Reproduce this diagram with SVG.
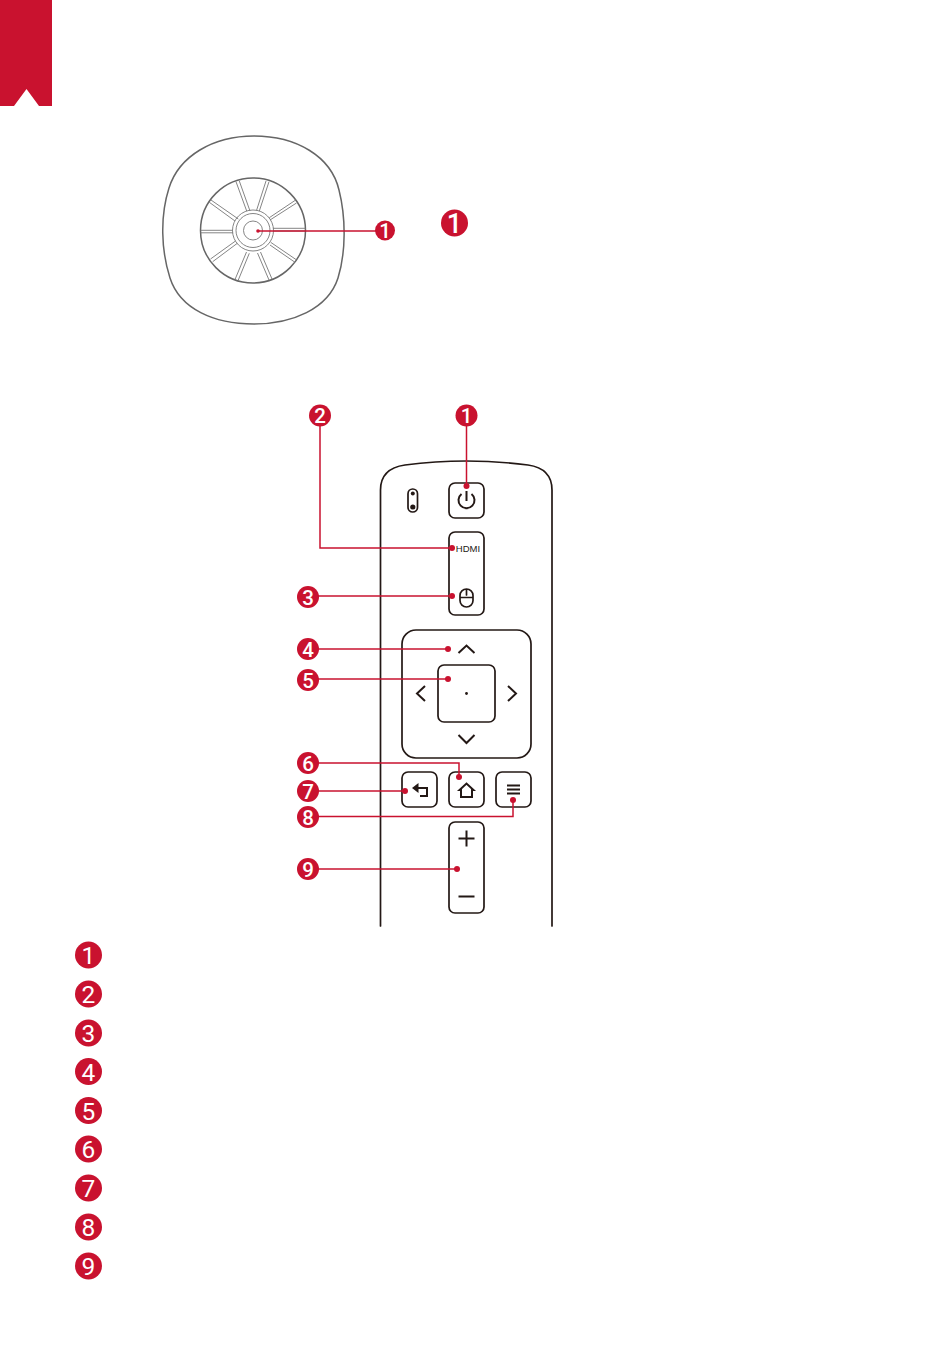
<svg xmlns="http://www.w3.org/2000/svg" width="950" height="1348" viewBox="0 0 950 1348">
<style>
.red{fill:#c9122f}
.ln{fill:none;stroke:#231815;stroke-width:1.7;stroke-linecap:round;stroke-linejoin:round}
.ic{fill:none;stroke:#231815;stroke-width:2;stroke-linejoin:miter}
.gr{fill:none;stroke:#666;stroke-width:1.5}
.th{fill:none;stroke:#777;stroke-width:.9}
.c{fill:none;stroke:#c9122f;stroke-width:1.5}
.d{fill:#c9122f}
.b{fill:#c9122f}
text{font-family:Roboto,"Liberation Sans",Arial,sans-serif;fill:#fff;text-anchor:middle}
.s{font-size:20.500px;font-weight:500}
.l{font-size:24.500px}
.k{font-size:27px;font-weight:500}
.h{font-size:9.500px;fill:#231815;font-family:"Liberation Sans",Arial,sans-serif}
</style>
<rect width="950" height="1348" fill="#fff"/>
<g id="ribbon"><path class="red" d="M0 0H52V106H39L26.500 89 14 106H0Z"/></g>

<g id="device-top">
<path class="gr" d="M254 136C296 136 331 156 339 190C346 218 346 252 338 278C328 309 292 324 254 324C214 324 180 309 170 278C161 250 160 216 169 188C179 156 213 136 254 136Z"/>
<circle class="gr" cx="253" cy="230.500" r="52.500"/>
<circle class="th" cx="253" cy="230.500" r="20.500"/>
<circle class="th" cx="253" cy="230.500" r="17"/>
<circle class="th" cx="253" cy="230.500" r="9.500"/>
<path class="th" d="M236 181.700L246.700 211M239.300 181L250 211M269 181.700L259.300 211M266 181L256.500 210.500M211 200L238.300 219M209.300 202.300L235 221M295.700 200L269.300 217.700M296.500 203L270 220M200.700 230.300H233M200.700 232.800H233M273 228.300H305.500M273 231H305.500M212.700 261.700L237.300 243.300M210.500 259L235.500 241M270.700 242.300L296.700 260M270 245L295 262.300M249.300 253.300L238.300 280M246.500 252L235 279.500M257.500 253L269 280M260.500 252L272 279"/>
</g>

<g id="remote">
<path class="ln" d="M380.500 926V490C380.500 474 391 467 405 465Q466 457 528 465C542 467 552 474 552 490V926"/>
<rect class="ln" x="408" y="489" width="9.500" height="23" rx="4.700"/>
<circle cx="412.800" cy="493.500" r="2" fill="#231815"/><circle cx="412.800" cy="507" r="2.600" fill="#231815"/>
</g>
<g id="btn-power"><rect class="ln" x="449" y="483" width="35" height="35" rx="6"/><path class="ic" d="M461.500 494a8 8 0 1 0 10 0M466.500 491V501"/></g>
<g id="btn-hdmi"><rect class="ln" x="449" y="532" width="35" height="83" rx="6"/><text class="h" x="468" y="551.500">HDMI</text><path class="ln" d="M460 595.500a6.500 6.500 0 0 1 13 0v5a6.500 6.500 0 0 1-13 0ZM460 597.500H473M466.500 590V595"/></g>
<g id="btn-dpad"><rect class="ln" x="402" y="630" width="129" height="128" rx="14"/><rect class="ln" x="438" y="665" width="57" height="57" rx="6"/><circle cx="466.500" cy="693.500" r="1.400" fill="#231815"/><path class="ic" d="M458.500 653L466.500 645.500 474.500 653M425 686L417 693.500 425 701M508 686L516 693.500 508 701M458.500 735L466.500 743 474.500 735"/></g>
<g id="btn-back"><rect class="ln" x="402" y="772" width="35" height="35" rx="6"/><path d="M418 788H427V796H420" fill="none" stroke="#231815" stroke-width="2"/><path d="M412 788L418.500 783V793Z" fill="#231815"/></g>
<g id="btn-home"><rect class="ln" x="449" y="772" width="35" height="35" rx="6"/><path class="ic" d="M461 790H459.500L466.500 783.500 473.500 790H472V797H461Z"/></g>
<g id="btn-menu"><rect class="ln" x="496" y="772" width="35" height="35" rx="6"/><path class="ic" d="M507 785.500H520M507 789.500H520M507 793.500H520"/></g>
<g id="btn-volume"><rect class="ln" x="449" y="822" width="35" height="91" rx="6"/><path class="ic" d="M458.500 838.500H474.500M466.500 830.500V846.500M458.500 896.500H474.500"/></g>

<g id="connectors">
<path class="c" d="M258 231H385"/>
<path class="c" d="M466.500 415V486"/>
<path class="c" d="M320 415V548H452"/>
<path class="c" d="M308 596H452"/>
<path class="c" d="M308 649H448"/>
<path class="c" d="M308 679H448"/>
<path class="c" d="M308 763H459V777"/>
<path class="c" d="M308 791H405"/>
<path class="c" d="M308 816.500H513V800"/>
<path class="c" d="M308 869H457"/>
<g class="d"><circle cx="258" cy="231" r="1.800"/><circle cx="466.500" cy="486" r="3"/><circle cx="452" cy="548" r="3"/><circle cx="452" cy="596" r="3"/><circle cx="448" cy="649" r="3"/><circle cx="448" cy="679" r="3"/><circle cx="459" cy="777" r="3"/><circle cx="405" cy="791" r="3"/><circle cx="513" cy="800" r="3"/><circle cx="457" cy="869" r="3"/></g>
</g>

<g id="badge-top-1"><circle class="b" cx="385" cy="230.500" r="10"/><text class="s" x="385" y="238">1</text></g>
<g id="badge-key-top-1"><circle class="b" cx="454.500" cy="223" r="13.500"/><text class="k" x="454.500" y="232.500">1</text></g>
<g id="badge-r1"><circle class="b" cx="466.500" cy="415.500" r="11"/><text class="s" x="466.500" y="423">1</text></g>
<g id="badge-r2"><circle class="b" cx="320" cy="415.500" r="11"/><text class="s" x="320" y="423">2</text></g>
<g id="badge-r3"><circle class="b" cx="308" cy="597" r="11"/><text class="s" x="308" y="604.500">3</text></g>
<g id="badge-r4"><circle class="b" cx="308" cy="649" r="11"/><text class="s" x="308" y="656.500">4</text></g>
<g id="badge-r5"><circle class="b" cx="308" cy="680" r="11"/><text class="s" x="308" y="687.500">5</text></g>
<g id="badge-r6"><circle class="b" cx="308" cy="763" r="11"/><text class="s" x="308" y="770.500">6</text></g>
<g id="badge-r7"><circle class="b" cx="308" cy="791" r="11"/><text class="s" x="308" y="798.500">7</text></g>
<g id="badge-r8"><circle class="b" cx="308" cy="817" r="11"/><text class="s" x="308" y="824.500">8</text></g>
<g id="badge-r9"><circle class="b" cx="308" cy="869" r="11"/><text class="s" x="308" y="876.500">9</text></g>

<g id="key-1"><circle class="b" cx="88.500" cy="955" r="13.500"/><text class="l" x="88.500" y="964">1</text></g>
<g id="key-2"><circle class="b" cx="88.500" cy="994" r="13.500"/><text class="l" x="88.500" y="1003">2</text></g>
<g id="key-3"><circle class="b" cx="88.500" cy="1033" r="13.500"/><text class="l" x="88.500" y="1042">3</text></g>
<g id="key-4"><circle class="b" cx="88.500" cy="1071.500" r="13.500"/><text class="l" x="88.500" y="1080.500">4</text></g>
<g id="key-5"><circle class="b" cx="88.500" cy="1110.500" r="13.500"/><text class="l" x="88.500" y="1119.500">5</text></g>
<g id="key-6"><circle class="b" cx="88.500" cy="1149" r="13.500"/><text class="l" x="88.500" y="1158">6</text></g>
<g id="key-7"><circle class="b" cx="88.500" cy="1188" r="13.500"/><text class="l" x="88.500" y="1197">7</text></g>
<g id="key-8"><circle class="b" cx="88.500" cy="1227" r="13.500"/><text class="l" x="88.500" y="1236">8</text></g>
<g id="key-9"><circle class="b" cx="88.500" cy="1266" r="13.500"/><text class="l" x="88.500" y="1275">9</text></g>
</svg>
